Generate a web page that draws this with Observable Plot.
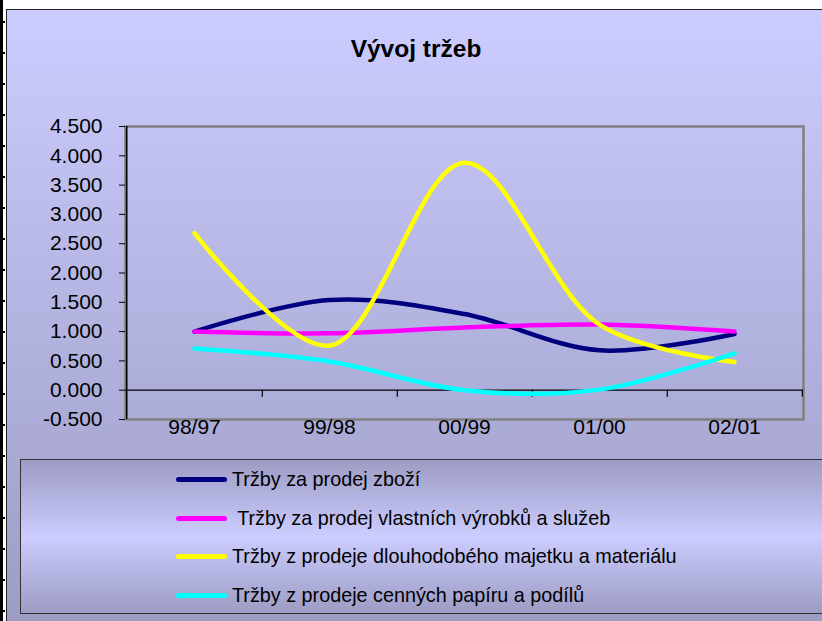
<!DOCTYPE html>
<html>
<head>
<meta charset="utf-8">
<script src="https://cdn.jsdelivr.net/npm/d3@7"></script>
<script src="https://cdn.jsdelivr.net/npm/@observablehq/plot@0.6"></script>
<style>
html, body { margin: 0; padding: 0; background: #fff; width: 822px; height: 621px; overflow: hidden; font-family: "Liberation Sans", Arial, sans-serif; }
#leftbar { position: absolute; left: 0; top: 0; width: 3px; height: 621px; background: #000; }
#leftticks { position: absolute; left: 3px; top: 0; width: 2px; height: 621px;
  background: repeating-linear-gradient(to bottom, transparent 0px, transparent 21px, #000 21px, #000 23px, transparent 23px, transparent 31px); }
#area { position: absolute; left: 6px; top: 9px; width: 816px; height: 612px; border-left: 1.5px solid #222; border-top: 1.5px solid #222;
  background: linear-gradient(to bottom, #ccccff 0%, #9c9cc4 100%); }
#title { position: absolute; left: 0; top: 37px; width: 832px; text-align: center; font-size: 24.5px; line-height: 24px; font-weight: bold; color: #000; }
#chart { position: absolute; left: 0; top: 0; }
#legend { position: absolute; left: 20px; top: 459px; width: 802px; height: 155px; border-top: 1.5px solid #333; border-left: 1.5px solid #333; border-bottom: 1.5px solid #333; border-right: none;
  background: linear-gradient(to bottom, #9c9cc4 0%, #ccccff 50%, #9c9cc4 100%); box-sizing: border-box; }
.sw { position: absolute; left: 176px; width: 51px; height: 5px; border-radius: 3px; }
.lt { position: absolute; left: 232px; font-size: 19.8px; line-height: 19px; height: 19px; white-space: pre; color: #000; }
</style>
</head>
<body>
<div id="leftbar"></div>
<div id="leftticks"></div>
<div id="area"></div>
<div id="title">Vývoj tržeb</div>
<div id="chart"></div>
<div id="legend"></div>
<div id="legendItems"></div>
<script>
const categories = ["98/97", "99/98", "00/99", "01/00", "02/01"];
const seriesNames = [
  "Tržby za prodej zboží",
  " Tržby za prodej vlastních výrobků a služeb",
  "Tržby z prodeje dlouhodobého majetku a materiálu",
  "Tržby z prodeje cenných papíru a podílů"
];
const zbozi   = [1.00, 1.54, 1.30, 0.68, 0.96];
const vyrobky = [1.00, 0.97, 1.07, 1.12, 1.00];
const majetek = [2.68, 0.76, 3.88, 1.12, 0.48];
const papiry  = [0.71, 0.49, 0.00, 0.01, 0.63];
const yTicks = [-0.5, 0, 0.5, 1, 1.5, 2, 2.5, 3, 3.5, 4, 4.5];
const colors = ["#000080", "#ff00ff", "#ffff00", "#00ffff"];
const legendRows = [479, 518, 556.5, 595.5];

const seriesValues = [zbozi, vyrobky, majetek, papiry];
const rows = [];
seriesNames.forEach((s, k) => categories.forEach((c, i) => rows.push({series: s, cat: c, value: seriesValues[k][i]})));

const W = 822, H = 450, mL = 125, mR = 19, mT = 126, mB = 31;
const step = (W - mL - mR) / categories.length;

const chart = Plot.plot({
  width: W, height: H,
  marginLeft: mL, marginRight: mR, marginTop: mT, marginBottom: mB,
  style: {background: "transparent", color: "#000", fontFamily: "'Liberation Sans', Arial, sans-serif", fontSize: "21px", overflow: "visible"},
  x: {type: "point", domain: categories, padding: 0.5},
  y: {domain: [-0.5, 4.5]},
  color: {domain: seriesNames, range: colors},
  marks: [
    Plot.frame({stroke: "#808080", strokeWidth: 2.5}),
    Plot.ruleY([0], {stroke: "#000", strokeWidth: 1.2}),
    Plot.ruleX(categories, {x: d => d, y1: 0, y2: 0, insetBottom: -7, dx: step / 2, stroke: "#000", strokeWidth: 1.2}),
    Plot.ruleX([categories[0]], {x: d => d, dx: -step / 2, stroke: "#000", strokeWidth: 1.6}),
    Plot.axisY({ticks: yTicks, tickFormat: d => d.toFixed(3), tickSize: 6, tickPadding: 17, fontSize: 21, label: null, stroke: "#000"}),
    Plot.axisX({tickSize: 0, tickPadding: 0, fontSize: 21, label: null}),
    Plot.line(rows, {x: "cat", y: "value", z: "series", stroke: "series", strokeWidth: 4.5, curve: "catmull-rom", strokeLinecap: "round", strokeLinejoin: "round"})
  ]
});
document.getElementById("chart").appendChild(chart);

const li = document.getElementById("legendItems");
seriesNames.forEach((s, k) => {
  const sw = document.createElement("div");
  sw.className = "sw";
  sw.style.top = (legendRows[k] - 2.5) + "px";
  sw.style.background = colors[k];
  li.appendChild(sw);
  const t = document.createElement("div");
  t.className = "lt";
  t.style.top = (legendRows[k] - 9.5) + "px";
  t.textContent = s;
  li.appendChild(t);
});
</script>
</body>
</html>
